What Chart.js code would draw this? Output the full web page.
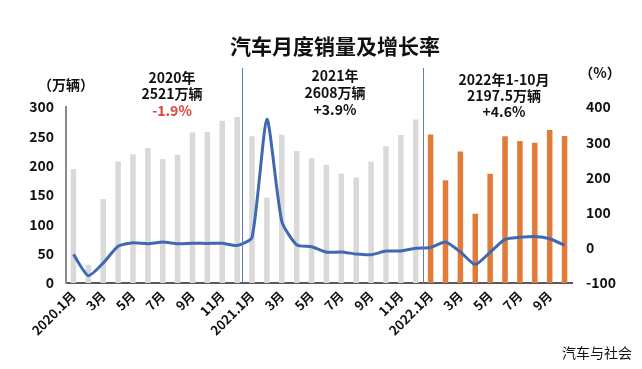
<!DOCTYPE html>
<html>
<head>
<meta charset="utf-8">
<script src="https://cdn.jsdelivr.net/npm/chart.js@4/dist/chart.umd.min.js"></script>
<style>
  body { margin: 0; background: #fff; }
  #wrap { width: 642px; height: 369px; position: relative; }
</style>
</head>
<body>
<div id="wrap"><canvas id="grafico" width="642" height="369"></canvas></div>
<script>
// mesi (34: 2020.1 - 2022.10)
const mesi = [
  '2020.1月','2月','3月','4月','5月','6月','7月','8月','9月','10月','11月','12月',
  '2021.1月','2月','3月','4月','5月','6月','7月','8月','9月','10月','11月','12月',
  '2022.1月','2月','3月','4月','5月','6月','7月','8月','9月','10月'
];
// vendite mensili (万辆)
const vendite = [
  194.1, 31.0, 143.0, 207.0, 219.4, 230.0, 211.2, 218.6, 256.5, 257.3, 276.5, 283.1,
  250.3, 145.5, 252.6, 225.2, 212.8, 201.5, 186.4, 179.9, 206.7, 233.3, 252.2, 278.6,
  253.1, 175.0, 224.0, 118.1, 186.2, 250.2, 242.0, 239.0, 261.0, 250.5
];
// crescita (%)
const crescita = [
  -18.7, -79.1, -43.3, 4.4, 14.5, 11.6, 16.4, 11.6, 12.8, 12.5, 12.6, 6.4,
  29.5, 365.2, 74.9, 8.6, 3.1, -12.4, -11.9, -17.8, -19.6, -9.4, -9.1, -1.6,
  0.9, 16.5, -11.7, -47.6, -12.6, 23.8, 29.7, 32.1, 25.7, 6.9
];
const tickSinistra = [0, 50, 100, 150, 200, 250, 300];
const tickDestra = [-100, 0, 100, 200, 300, 400];

const grigio = '#d9d9d9';
const arancio = '#e07b39';
const blu = '#4169b2';
const font = '"Noto Sans CJK SC", "Noto Sans", sans-serif';

// colori barre: 2022 in arancio
const coloriBarre = vendite.map((v, i) => i >= 24 ? arancio : grigio);

// testi e linee di separazione
const annotazioni = {
  id: 'annotazioni',
  afterDraw(chart) {
    const ctx = chart.ctx;
    const x = chart.scales.x;
    const yb = chart.chartArea.bottom;
    ctx.save();
    // linee verticali tra gli anni
    ctx.strokeStyle = '#5b7dbb';
    ctx.lineWidth = 1;
    [11.3, 23.5].forEach(p => {
      const px = Math.round(x.getPixelForValue(p)) + 0.5;
      ctx.beginPath();
      ctx.moveTo(px, 68);
      ctx.lineTo(px, yb);
      ctx.stroke();
    });

    ctx.textAlign = 'center';
    ctx.textBaseline = 'middle';
    ctx.fillStyle = '#111';
    ctx.font = 'bold 21px ' + font;
    ctx.fillText('汽车月度销量及增长率', 335, 46);

    ctx.font = 'bold 14px ' + font;
    ctx.fillText('（万辆）', 66, 85);
    ctx.fillText('（%）', 600, 73);

    ctx.fillText('2020年', 172, 78);
    ctx.fillText('2521万辆', 172, 94);
    ctx.fillStyle = '#e0443a';
    ctx.fillText('-1.9%', 172, 111);

    ctx.fillStyle = '#111';
    ctx.fillText('2021年', 335, 76);
    ctx.fillText('2608万辆', 335, 93);
    ctx.fillText('+3.9%', 335, 110);

    ctx.fillText('2022年1-10月', 504, 80);
    ctx.fillText('2197.5万辆', 504, 96);
    ctx.fillText('+4.6%', 504, 112);

    ctx.font = '14px ' + font;
    ctx.textAlign = 'right';
    ctx.fillText('汽车与社会', 632, 353);
    ctx.restore();
  }
};

new Chart(document.getElementById('grafico'), {
  type: 'bar',
  data: {
    labels: mesi,
    datasets: [
      {
        type: 'line',
        label: '增长率',
        data: crescita,
        yAxisID: 'y2',
        borderColor: blu,
        borderWidth: 3,
        pointRadius: 0,
        tension: 0.2,
        order: 0
      },
      {
        label: '销量',
        data: vendite,
        yAxisID: 'y',
        backgroundColor: coloriBarre,
        barPercentage: 0.37,
        categoryPercentage: 1,
        order: 1
      }
    ]
  },
  plugins: [annotazioni],
  options: {
    responsive: false,
    animation: false,
    layout: { padding: { top: 107, left: 0, right: 0, bottom: 0 } },
    plugins: { legend: { display: false }, tooltip: { enabled: false } },
    scales: {
      x: {
        grid: { display: false, drawTicks: false },
        border: { color: '#595959', width: 2 },
        afterFit(s) { s.height = 86; },
        ticks: {
          autoSkip: false,
          maxRotation: 45,
          minRotation: 45,
          padding: 5,
          color: '#111',
          font: { family: font, size: 13, weight: 'bold' },
          callback(v, i) { return i % 2 === 0 ? mesi[i] : ''; }
        }
      },
      y: {
        position: 'left',
        min: 0,
        max: 300,
        afterFit(s) { s.width = 66; },
        afterBuildTicks(s) { s.ticks = tickSinistra.map(v => ({ value: v })); },
        grid: { display: false, drawTicks: false },
        border: { color: '#8c8c8c', width: 2 },
        ticks: {
          padding: 12,
          color: '#111',
          font: { family: font, size: 14, weight: 'bold' }
        }
      },
      y2: {
        position: 'right',
        min: -100,
        max: 400,
        afterFit(s) { s.width = 70; },
        afterBuildTicks(s) { s.ticks = tickDestra.map(v => ({ value: v })); },
        grid: { display: false, drawTicks: false },
        border: { display: false },
        ticks: {
          padding: 14,
          color: '#111',
          font: { family: font, size: 14, weight: 'bold' }
        }
      }
    }
  }
});
</script>
</body>
</html>
